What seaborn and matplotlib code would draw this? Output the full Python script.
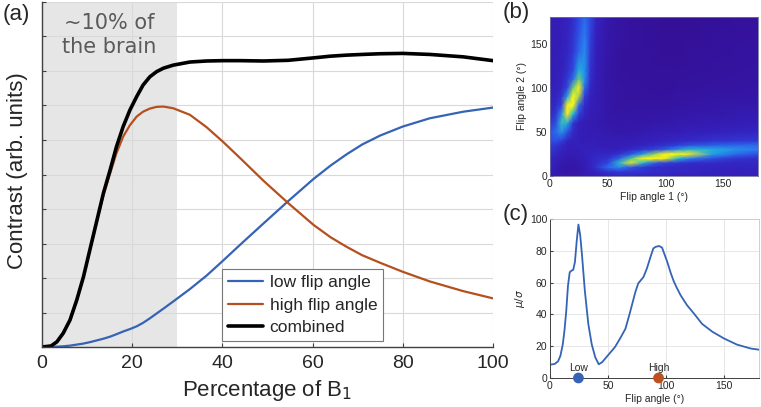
import matplotlib
matplotlib.use('Agg')
import matplotlib.pyplot as plt
from matplotlib.colors import LinearSegmentedColormap
import numpy as np
import seaborn as sns

# ---- panel (a): contrast vs percentage of B1 ----
pct = [0, 2, 3.3, 4.7, 6.2, 7.7, 9.2, 10.6, 12.1, 13.6, 15.1, 16.5, 18, 19.5, 21, 22.4,
       23.9, 25.4, 26.9, 29.1, 32.8, 36.5, 40.2, 43.9, 49.1, 54.6, 60.2, 64, 67.6, 71, 75, 80,
       86, 93.4, 100]
low_fa = [0, 0.0005, 0.001, 0.002, 0.004, 0.007, 0.01, 0.014, 0.019, 0.024, 0.03, 0.037,
          0.045, 0.052, 0.06, 0.07, 0.083, 0.097, 0.111, 0.132, 0.168, 0.207, 0.251, 0.296,
          0.358, 0.423, 0.487, 0.526, 0.559, 0.587, 0.613, 0.639, 0.663, 0.682, 0.694]
high_fa = [0, 0.003, 0.015, 0.04, 0.078, 0.135, 0.203, 0.279, 0.36, 0.44, 0.503, 0.561,
           0.61, 0.643, 0.668, 0.682, 0.691, 0.696, 0.697, 0.692, 0.673, 0.637, 0.594, 0.548,
           0.482, 0.417, 0.354, 0.318, 0.29, 0.266, 0.244, 0.218, 0.19, 0.162, 0.141]
combined = [0, 0.003, 0.015, 0.04, 0.078, 0.136, 0.204, 0.281, 0.363, 0.445, 0.513, 0.58,
            0.639, 0.687, 0.726, 0.759, 0.783, 0.798, 0.808, 0.817, 0.826, 0.829, 0.83, 0.83,
            0.829, 0.831, 0.838, 0.843, 0.846, 0.848, 0.85, 0.851, 0.848, 0.841, 0.83]

# ---- panel (b): mu/sigma map over two flip angles (normalised) ----
fa_grid = [0, 5, 10, 15, 20, 25, 30, 35, 40, 50, 60, 70, 80, 90, 100, 110, 120, 140, 160, 180]
snr_map = [
    [0.10, 0.09, 0.08, 0.07, 0.07, 0.08, 0.09, 0.10, 0.11, 0.13, 0.14, 0.14, 0.14, 0.13, 0.13, 0.12, 0.12, 0.11, 0.11, 0.11],
    [0.11, 0.09, 0.07, 0.06, 0.06, 0.07, 0.09, 0.11, 0.13, 0.17, 0.19, 0.18, 0.17, 0.16, 0.15, 0.14, 0.14, 0.13, 0.12, 0.12],
    [0.12, 0.10, 0.07, 0.06, 0.06, 0.07, 0.10, 0.13, 0.17, 0.30, 0.35, 0.26, 0.19, 0.16, 0.15, 0.14, 0.14, 0.13, 0.13, 0.13],
    [0.13, 0.11, 0.08, 0.07, 0.07, 0.08, 0.10, 0.13, 0.16, 0.22, 0.50, 0.80, 0.48, 0.28, 0.21, 0.18, 0.16, 0.15, 0.14, 0.14],
    [0.14, 0.12, 0.10, 0.08, 0.08, 0.09, 0.11, 0.13, 0.15, 0.17, 0.28, 0.58, 0.96, 1.00, 0.82, 0.50, 0.34, 0.24, 0.18, 0.16],
    [0.16, 0.14, 0.11, 0.09, 0.09, 0.10, 0.12, 0.13, 0.14, 0.14, 0.17, 0.25, 0.40, 0.66, 0.98, 0.98, 0.86, 0.42, 0.30, 0.24],
    [0.18, 0.16, 0.13, 0.11, 0.10, 0.11, 0.12, 0.12, 0.12, 0.12, 0.12, 0.15, 0.18, 0.22, 0.28, 0.38, 0.50, 0.45, 0.38, 0.33],
    [0.20, 0.18, 0.15, 0.12, 0.11, 0.11, 0.11, 0.11, 0.11, 0.10, 0.10, 0.11, 0.13, 0.15, 0.17, 0.20, 0.24, 0.27, 0.29, 0.30],
    [0.24, 0.24, 0.20, 0.14, 0.12, 0.11, 0.10, 0.10, 0.10, 0.09, 0.09, 0.10, 0.11, 0.12, 0.13, 0.14, 0.15, 0.17, 0.18, 0.19],
    [0.25, 0.30, 0.38, 0.25, 0.15, 0.11, 0.10, 0.09, 0.09, 0.08, 0.07, 0.07, 0.08, 0.09, 0.09, 0.10, 0.11, 0.12, 0.13, 0.14],
    [0.18, 0.24, 0.52, 0.44, 0.18, 0.12, 0.10, 0.09, 0.08, 0.07, 0.06, 0.06, 0.06, 0.07, 0.07, 0.08, 0.08, 0.09, 0.10, 0.11],
    [0.15, 0.18, 0.38, 0.88, 0.46, 0.20, 0.13, 0.10, 0.09, 0.06, 0.05, 0.05, 0.05, 0.05, 0.06, 0.06, 0.07, 0.07, 0.08, 0.09],
    [0.13, 0.15, 0.22, 0.95, 0.98, 0.30, 0.15, 0.11, 0.09, 0.06, 0.04, 0.04, 0.04, 0.04, 0.04, 0.05, 0.05, 0.06, 0.07, 0.07],
    [0.12, 0.13, 0.17, 0.42, 1.00, 0.68, 0.20, 0.12, 0.09, 0.06, 0.04, 0.03, 0.03, 0.03, 0.03, 0.04, 0.04, 0.05, 0.05, 0.06],
    [0.11, 0.12, 0.14, 0.22, 0.62, 0.95, 0.30, 0.14, 0.10, 0.06, 0.04, 0.03, 0.03, 0.02, 0.02, 0.03, 0.03, 0.04, 0.04, 0.05],
    [0.10, 0.11, 0.13, 0.18, 0.30, 0.62, 0.38, 0.16, 0.10, 0.05, 0.03, 0.03, 0.02, 0.02, 0.02, 0.02, 0.03, 0.03, 0.04, 0.04],
    [0.10, 0.11, 0.12, 0.16, 0.23, 0.45, 0.38, 0.17, 0.10, 0.05, 0.03, 0.02, 0.02, 0.02, 0.02, 0.02, 0.02, 0.03, 0.03, 0.04],
    [0.10, 0.10, 0.12, 0.14, 0.19, 0.29, 0.37, 0.19, 0.11, 0.06, 0.03, 0.02, 0.02, 0.02, 0.01, 0.01, 0.02, 0.02, 0.03, 0.03],
    [0.10, 0.10, 0.11, 0.13, 0.17, 0.25, 0.33, 0.21, 0.12, 0.06, 0.04, 0.03, 0.02, 0.01, 0.01, 0.01, 0.01, 0.02, 0.02, 0.03],
    [0.10, 0.10, 0.11, 0.13, 0.16, 0.22, 0.30, 0.23, 0.13, 0.07, 0.04, 0.03, 0.02, 0.02, 0.01, 0.01, 0.01, 0.01, 0.02, 0.02],
]

# ---- panel (c): mu/sigma vs single flip angle ----
flip = [0, 4, 7, 9, 11, 12.5, 14, 15.5, 17, 18.5, 20, 21.5, 23, 24.5, 26, 27.5, 30, 33, 36, 39,
        42, 45, 50, 56, 60.5, 65, 69, 73.5, 76, 80.5, 83.5, 86.5, 89, 91, 94, 96.5, 99, 101,
        104, 106.5, 109, 112.5, 118, 124, 131, 140, 150, 161, 173, 180]
mu_sigma = [8.4, 8.8, 10.5, 14, 21, 30, 42, 58, 66.5, 67.5, 68, 73, 86, 96.5, 90, 78, 55, 34,
            21, 13, 8.6, 10, 14.3, 19.5, 25, 31, 41.5, 54, 59.5, 63.5, 69, 76, 81.5, 82.5, 83,
            82, 77, 73, 66, 61, 57, 52, 45.8, 40.5, 34, 29, 24.8, 21, 18.5, 17.8]
chosen_names = ['Low', 'High']
chosen_fa = [24.5, 93.5]

BLUE = '#3563b5'
RED = '#b5501e'

sns.set_style('whitegrid')
plt.rcParams['font.family'] = ['Liberation Sans', 'DejaVu Sans']
plt.rcParams['mathtext.fontset'] = 'dejavusans'

fig = plt.figure(figsize=(7.61, 4.07), dpi=100)
ax_a = fig.add_axes([0.0552, 0.1474, 0.5926, 0.8477])
ax_b = fig.add_axes([0.7227, 0.5676, 0.2733, 0.3906])
ax_c = fig.add_axes([0.7227, 0.0713, 0.2747, 0.3906])

# (a)
ax_a.axvspan(0, 30, color='#e6e6e6', zorder=0, lw=0)
sns.lineplot(x=pct, y=low_fa, ax=ax_a, color=BLUE, lw=1.6, label='low flip angle')
sns.lineplot(x=pct, y=high_fa, ax=ax_a, color=RED, lw=1.6, label='high flip angle')
sns.lineplot(x=pct, y=combined, ax=ax_a, color='black', lw=2.6, label='combined')
ax_a.set_xlim(0, 100)
ax_a.set_ylim(0, 1)
ax_a.set_xticks([0, 20, 40, 60, 80, 100])
ax_a.set_yticks(np.arange(0, 1.01, 0.1))
ax_a.set_yticklabels([])
ax_a.grid(True, color='#d9d9d9', lw=0.8)
ax_a.set_axisbelow(True)
ax_a.tick_params(axis='both', direction='in', length=3, color='#404040', labelsize=14, pad=6,
                 bottom=True, left=True)
for s in ['top', 'right']:
    ax_a.spines[s].set_visible(False)
for s in ['left', 'bottom']:
    ax_a.spines[s].set_color('#404040')
    ax_a.spines[s].set_linewidth(1.0)
ax_a.set_xlabel('Percentage of B$_1$', fontsize=16, labelpad=4)
ax_a.set_ylabel('Contrast (arb. units)', fontsize=16)
ax_a.yaxis.set_label_coords(-0.031, 0.51)
ax_a.text(15, 0.905, '~10% of\nthe brain', ha='center', va='center', fontsize=15,
          color='#5a5a5a', family='DejaVu Sans', linespacing=1.25)
leg = ax_a.legend(loc='lower left', bbox_to_anchor=(0.399, 0.017), fontsize=12.5,
                  frameon=True, fancybox=False, framealpha=1, edgecolor='#777777',
                  handlelength=2.0, handletextpad=0.4, borderpad=0.35, labelspacing=0.42,
                  borderaxespad=0)
leg.get_frame().set_linewidth(0.8)

# (b)
parula_like = LinearSegmentedColormap.from_list('parula_like', [
    (0.0, '#340f96'), (0.12, '#3420bc'), (0.22, '#3044e0'), (0.34, '#2a80f0'),
    (0.46, '#1fb2de'), (0.58, '#44c89c'), (0.7, '#b4d046'), (0.82, '#f2e422'),
    (1.0, '#fafa14')])
ax_b.pcolormesh(fa_grid, fa_grid, np.array(snr_map), shading='gouraud', cmap=parula_like,
                vmin=0, vmax=1, rasterized=True)
ax_b.set_xlim(0, 180)
ax_b.set_ylim(0, 180)
ax_b.set_xticks([0, 50, 100, 150])
ax_b.set_yticks([0, 50, 100, 150])
ax_b.grid(False)
ax_b.tick_params(direction='in', length=2, labelsize=7.5, pad=2, bottom=True, left=True,
                 color='#404040')
for s in ax_b.spines.values():
    s.set_color('#7070a0')
    s.set_linewidth(0.6)
ax_b.set_xlabel('Flip angle 1 (\u00b0)', fontsize=7.5, labelpad=2)
ax_b.set_ylabel('Flip angle 2 (\u00b0)', fontsize=7.5, labelpad=2)

# (c)
sns.lineplot(x=flip, y=mu_sigma, ax=ax_c, color=BLUE, lw=1.3)
ax_c.scatter(chosen_fa, [0, 0], s=45, c=[BLUE, '#c0501f'], zorder=5, clip_on=False)
for name, f in zip(chosen_names, chosen_fa):
    ax_c.text(f, 4.3, name, ha='center', va='baseline', fontsize=7.5)
ax_c.set_xlim(0, 180)
ax_c.set_ylim(0, 100)
ax_c.set_xticks([0, 50, 100, 150])
ax_c.set_yticks([0, 20, 40, 60, 80, 100])
ax_c.grid(True, color='#e3e3e3', lw=0.6)
ax_c.tick_params(direction='in', length=2, labelsize=7.5, pad=2, bottom=True, left=True,
                 color='#404040')
for s in ['left', 'bottom']:
    ax_c.spines[s].set_color('#404040')
    ax_c.spines[s].set_linewidth(0.7)
for s in ['top', 'right']:
    ax_c.spines[s].set_color('#c8c8c8')
    ax_c.spines[s].set_linewidth(0.6)
ax_c.set_xlabel('Flip angle (\u00b0)', fontsize=7.5, labelpad=2)
ax_c.set_ylabel(r'$\mu/\sigma$', fontsize=7.5, labelpad=2)

# panel letters
fig.text(0.003, 0.99, '(a)', fontsize=16, va='top', ha='left')
fig.text(0.661, 0.995, '(b)', fontsize=16, va='top', ha='left')
fig.text(0.661, 0.498, '(c)', fontsize=16, va='top', ha='left')

fig.savefig('out.png', dpi=100)
